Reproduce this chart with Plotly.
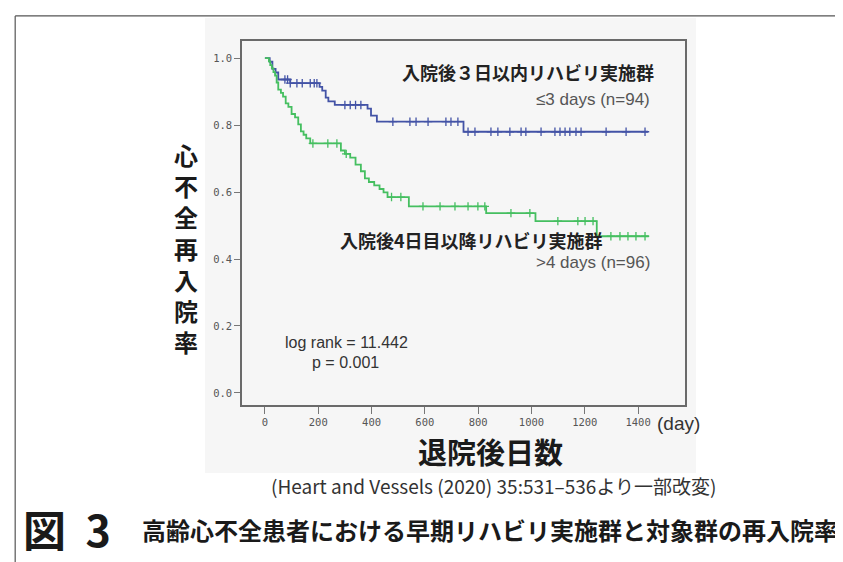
import numpy as np
import plotly.graph_objects as go

# ---------------- data ----------------
x_ticks = [0, 200, 400, 600, 800, 1000, 1200, 1400]
y_ticks = [0.0, 0.2, 0.4, 0.6, 0.8, 1.0]

# <=3 days group (n=94): Kaplan-Meier steps
blue_days = [0, 18, 28, 40, 50, 95, 205, 215, 228, 238, 262, 385, 398, 420, 745, 1437]
blue_surv = [1.0, 0.989, 0.968, 0.957, 0.936, 0.925, 0.914, 0.903, 0.882, 0.871, 0.86, 0.849, 0.828, 0.81, 0.78, 0.78]
blue_censor = [75, 85, 95, 120, 140, 170, 185, 195, 300, 320, 340, 360, 480, 544, 567, 612, 679,
               698, 724, 762, 788, 848, 874, 919, 961, 979, 1036, 1088, 1107, 1126, 1144, 1167,
               1186, 1280, 1355, 1426]

# >4 days group (n=96)
green_days = [0, 15, 20, 26, 32, 38, 44, 50, 60, 68, 78, 88, 100, 113, 125, 135, 145, 155, 170,
              285, 300, 320, 340, 360, 375, 390, 410, 430, 445, 460, 540, 830, 1015, 1245, 1440]
green_surv = [1.0, 0.99, 0.979, 0.969, 0.958, 0.948, 0.927, 0.906, 0.896, 0.885, 0.865, 0.854,
              0.833, 0.823, 0.802, 0.781, 0.771, 0.76, 0.745, 0.724, 0.714, 0.703, 0.682, 0.662,
              0.641, 0.63, 0.62, 0.609, 0.599, 0.585, 0.557, 0.537, 0.513, 0.468, 0.468]
green_censor = [180, 236, 270, 305, 475, 510, 593, 657, 713, 762, 799, 825, 923, 994, 1099, 1174,
                1201, 1231, 1298, 1332, 1362, 1392, 1426]

y_title = "心不全再入院率"

blue_color = "#4353a6"
green_color = "#45bf60"


def step_at(days, surv, t):
    idx = np.searchsorted(np.array(days), np.array(t), side="right") - 1
    return np.array(surv)[idx]


fig = go.Figure()

for days, surv, cens, col in [(blue_days, blue_surv, blue_censor, blue_color),
                              (green_days, green_surv, green_censor, green_color)]:
    fig.add_trace(go.Scatter(x=days, y=surv, mode="lines", line=dict(color=col, width=1.8, shape="hv"),
                             showlegend=False, hoverinfo="skip"))
    fig.add_trace(go.Scatter(x=cens, y=step_at(days, surv, cens), mode="markers",
                             marker=dict(symbol="cross-thin-open", size=6, color=col,
                                         line=dict(color=col, width=1.3)),
                             showlegend=False, hoverinfo="skip"))

jp = "Noto Sans CJK JP"
sans = "Liberation Sans"
annotations = [
    dict(x=0.935, y=0.915, xref="paper", yref="paper", text="入院後３日以内リハビリ実施群", showarrow=False,
         xanchor="right", yanchor="middle", font=dict(family=jp, size=18, color="#222", weight="bold")),
    dict(x=0.925, y=0.840, xref="paper", yref="paper", text="≤3 days (n=94)", showarrow=False,
         xanchor="right", yanchor="middle", font=dict(family=sans, size=17, color="#555")),
    dict(x=0.820, y=0.453, xref="paper", yref="paper", text="入院後4日目以降リハビリ実施群", showarrow=False,
         xanchor="right", yanchor="middle", font=dict(family=jp, size=18, color="#222", weight="bold")),
    dict(x=0.925, y=0.392, xref="paper", yref="paper", text="&gt;4 days (n=96)", showarrow=False,
         xanchor="right", yanchor="middle", font=dict(family=sans, size=17, color="#555")),
    dict(x=0.237, y=0.171, xref="paper", yref="paper", text="log rank = 11.442", showarrow=False,
         xanchor="center", yanchor="middle", font=dict(family=sans, size=16, color="#333")),
    dict(x=0.233, y=0.116, xref="paper", yref="paper", text="p = 0.001", showarrow=False,
         xanchor="center", yanchor="middle", font=dict(family=sans, size=16, color="#333")),
    dict(x=0.932, y=-0.050, xref="paper", yref="paper", text="(day)", showarrow=False,
         xanchor="left", yanchor="middle", font=dict(family=sans, size=19, color="#333")),
    dict(x=0.562, y=-0.125, xref="paper", yref="paper", text="退院後日数", showarrow=False,
         xanchor="center", yanchor="middle", font=dict(family=jp, size=29, color="#1a1a1a", weight="bold")),
    dict(x=0.567, y=-0.222, xref="paper", yref="paper", text="(Heart and Vessels (2020) 35:531–536より一部改変)",
         showarrow=False, xanchor="center", yanchor="middle",
         font=dict(family=jp, size=19, color="#333")),
    dict(x=-0.500, y=-0.338, xref="paper", yref="paper", text="図&nbsp; 3", showarrow=False,
         xanchor="left", yanchor="middle", font=dict(family=jp, size=43, color="#1a1a1a", weight="bold")),
    dict(x=1.350, y=-0.342, xref="paper", yref="paper", text="高齢心不全患者における早期リハビリ実施群と対象群の再入院率",
         showarrow=False, xanchor="right", yanchor="middle",
         font=dict(family=jp, size=24, color="#1a1a1a", weight="bold")),
    # vertical y-axis title, one character per line
    dict(x=-0.126, y=0.43, xref="paper", yref="paper", text="<br>".join(y_title), showarrow=False,
         xanchor="center", yanchor="middle", align="center",
         font=dict(family=jp, size=24, color="#1a1a1a", weight="bold")),
]

shapes = [
    # light grey scanned-chart background
    dict(type="rect", xref="paper", yref="paper", x0=-0.0835, x1=1.025, y0=-0.187, y1=1.063,
         fillcolor="#f6f6f6", line=dict(width=0), layer="below"),
    # page frame
    dict(type="line", xref="paper", yref="paper", x0=-0.512, x1=1.38, y0=1.069, y1=1.069,
         line=dict(color="#555", width=1.2)),
    dict(type="line", xref="paper", yref="paper", x0=-0.512, x1=-0.512, y0=-0.46, y1=1.069,
         line=dict(color="#555", width=1.2)),
]

fig.update_layout(
    width=843, height=562,
    margin=dict(l=234, r=166, t=33, b=165),
    paper_bgcolor="white",
    plot_bgcolor="#efefef",
    annotations=annotations,
    shapes=shapes,
    xaxis=dict(range=[-86, 1576], tickvals=x_ticks, ticktext=[str(v) for v in x_ticks],
               showgrid=False, zeroline=False, showline=True, linecolor="#6a6a6a", linewidth=1.5,
               mirror=True, ticks="outside", ticklen=7, tickcolor="#777",
               tickfont=dict(family="DejaVu Sans Mono", size=10.5, color="#555")),
    yaxis=dict(range=[-0.036, 1.051], tickvals=y_ticks, tickformat=".1f",
               showgrid=False, zeroline=False, showline=True, linecolor="#6a6a6a", linewidth=1.5,
               mirror=True, ticks="outside", ticklen=6, tickcolor="#777",
               tickfont=dict(family="DejaVu Sans Mono", size=10.5, color="#555")),
)

fig.write_html("out.html")
